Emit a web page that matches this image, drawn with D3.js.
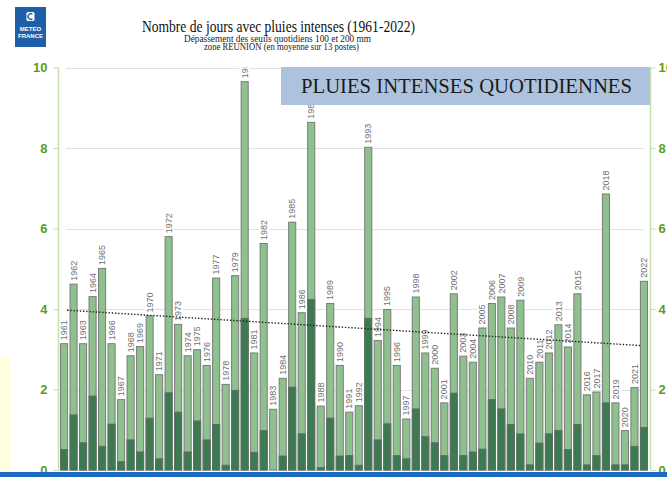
<!DOCTYPE html>
<html>
<head>
<meta charset="utf-8">
<script src="https://cdn.jsdelivr.net/npm/d3@7"></script>
<style>
  html, body { margin: 0; padding: 0; background: #fff; }
  svg { display: block; }
</style>
</head>
<body>
<svg id="chart" width="667" height="477"></svg>
<script>
// ---------------- DATA ----------------
const years = [1961,1962,1963,1964,1965,1966,1967,1968,1969,1970,
  1971,1972,1973,1974,1975,1976,1977,1978,1979,1980,
  1981,1982,1983,1984,1985,1986,1987,1988,1989,1990,
  1991,1992,1993,1994,1995,1996,1997,1998,1999,2000,
  2001,2002,2003,2004,2005,2006,2007,2008,2009,2010,
  2011,2012,2013,2014,2015,2016,2017,2018,2019,2020,
  2021,2022];
// days above 100 mm (total bar)
const days100 = [3.15,4.63,3.15,4.32,5.02,3.15,1.76,2.85,3.08,3.84,
  2.38,5.81,3.63,2.85,3.00,2.61,4.78,2.14,4.84,9.66,
  2.92,5.64,1.52,2.29,6.17,3.92,8.65,1.60,4.15,2.61,
  1.45,1.61,8.03,3.23,4.00,2.61,1.28,4.31,2.92,2.54,
  1.68,4.39,2.84,2.69,3.54,4.15,4.31,3.54,4.23,2.29,
  2.69,2.92,3.62,3.07,4.39,1.88,1.95,6.87,1.68,0.99,
  2.06,4.70];
// days above 200 mm (dark bar)
const days200 = [0.52,1.38,0.69,1.85,0.60,1.15,0.22,0.76,0.46,1.30,
  0.29,1.93,1.45,0.46,1.23,0.76,1.14,0.13,1.99,3.78,
  0.45,0.99,0.00,0.36,2.07,0.91,4.25,0.07,1.30,0.36,
  0.37,0.13,3.78,0.76,1.16,0.37,0.29,1.53,0.84,0.69,
  0.37,1.92,0.37,0.46,0.53,1.76,1.53,1.14,0.91,0.14,
  0.68,0.91,0.99,0.52,1.14,0.14,0.37,1.68,0.14,0.14,
  0.60,1.07];
const trendYears = [1961, 2022];
const trendValues = [3.97, 3.09];
const yTicks = [0, 2, 4, 6, 8, 10];

const titleText = "Nombre de jours avec pluies intenses (1961-2022)";
const subtitle1 = "Dépassement des seuils quotidiens 100 et 200 mm";
const subtitle2 = "zone REUNION (en moyenne sur 13 postes)";
const boxText = "PLUIES INTENSES QUOTIDIENNES";

// ---------------- LAYOUT ----------------
const svg = d3.select("#chart");
const axisGreen = "#5a9e1e";
const axisLine = "#c6e0ad";
const serif = "Liberation Serif, Times New Roman, serif";
const sans = "Liberation Sans, Arial, sans-serif";

const x = d3.scaleBand().domain(years).range([59.3, 648.7])
  .paddingInner(0.15).paddingOuter(0.075);
const y = d3.scaleLinear().domain([0, 10]).range([470, 67.5]);

// yellow side box
svg.append("rect").attr("x", 0).attr("y", 357).attr("width", 10.5).attr("height", 115)
  .attr("fill", "#ffffe0");

// gridlines
svg.append("g").selectAll("line").data(yTicks).join("line")
  .attr("x1", 66).attr("x2", 643)
  .attr("y1", d => Math.round(y(d)) + 0.5).attr("y2", d => Math.round(y(d)) + 0.5)
  .attr("stroke", "#e2e2e2").attr("stroke-width", 1);

const rows = years.map((yr, i) => ({ year: yr, total: days100[i], dark: days200[i] }));

// light bars (>=100 mm)
svg.append("g").selectAll("rect").data(rows).join("rect")
  .attr("x", d => x(d.year) + 0.5)
  .attr("width", x.bandwidth() - 1)
  .attr("y", d => y(d.total) + 0.5)
  .attr("height", d => y(0) - y(d.total) - 0.5)
  .attr("fill", "#8fc18f").attr("stroke", "#7a7a7a").attr("stroke-width", 1);

// dark bars (>=200 mm)
svg.append("g").selectAll("rect").data(rows.filter(d => d.dark > 0.03)).join("rect")
  .attr("x", d => x(d.year) + 0.5)
  .attr("width", x.bandwidth() - 1)
  .attr("y", d => y(d.dark) + 0.5)
  .attr("height", d => Math.max(0, y(0) - y(d.dark) - 0.5))
  .attr("fill", "#3b7a52").attr("stroke", "#5f6f62").attr("stroke-width", 1);

// clip for year labels
svg.append("clipPath").attr("id", "plotclip")
  .append("rect").attr("x", 50).attr("y", 67.5).attr("width", 610).attr("height", 410);

const labels = svg.append("g").attr("clip-path", "url(#plotclip)")
  .selectAll("g").data(rows).join("g")
  .attr("transform", d => `translate(${x(d.year) + x.bandwidth() / 2},${y(d.total) - 3}) rotate(-90)`);
labels.append("rect").attr("x", -1).attr("y", -5).attr("width", 22).attr("height", 10)
  .attr("fill", "#fff");
labels.append("text").attr("x", 0).attr("y", 0).attr("dy", "0.35em")
  .attr("font-family", sans).attr("font-size", 9)
  .attr("fill", "#707070").text(d => d.year);

// trend line
svg.append("line")
  .attr("x1", x(trendYears[0]) + x.bandwidth() / 2 + 3).attr("y1", y(trendValues[0]))
  .attr("x2", x(trendYears[1]) + x.bandwidth() / 2 - 2).attr("y2", y(trendValues[1]))
  .attr("stroke", "#222").attr("stroke-width", 1.4).attr("stroke-dasharray", "1.4,1.8");

// title box
svg.append("rect").attr("x", 281).attr("y", 67).attr("width", 369.5).attr("height", 38)
  .attr("fill", "#adc3dd");
svg.append("text").attr("x", 301).attr("y", 93)
  .attr("textLength", 331).attr("lengthAdjust", "spacingAndGlyphs")
  .attr("font-family", serif).attr("font-size", 21)
  .attr("fill", "#1a1a1a").text(boxText);

// axes
const leftAxis = d3.axisLeft(y).tickValues(yTicks).tickSize(5).tickPadding(6).tickFormat(d3.format("d"));
const gL = svg.append("g").attr("transform", "translate(58.5,0)").call(leftAxis);
const rightAxis = d3.axisRight(y).tickValues(yTicks).tickSize(5).tickPadding(3).tickFormat(d3.format("d"));
const gR = svg.append("g").attr("transform", "translate(650.5,0)").call(rightAxis);
[gL, gR].forEach(g => {
  g.select(".domain").attr("stroke", axisLine).attr("stroke-width", 1.5)
    .attr("d", "M0,67.5V470");
  g.selectAll(".tick line").attr("stroke", axisLine).attr("stroke-width", 1);
  g.selectAll(".tick text").attr("fill", axisGreen)
    .attr("font-family", sans)
    .attr("font-weight", "bold").attr("font-size", 13);
});

// titles
svg.append("text").attr("x", 142).attr("y", 31.5)
  .attr("textLength", 273).attr("lengthAdjust", "spacingAndGlyphs")
  .attr("font-family", serif).attr("font-size", 16)
  .attr("fill", "#111").text(titleText);
svg.append("text").attr("x", 184).attr("y", 41.5)
  .attr("textLength", 187).attr("lengthAdjust", "spacingAndGlyphs")
  .attr("font-family", serif).attr("font-size", 9.5)
  .attr("fill", "#222").text(subtitle1);
svg.append("text").attr("x", 204).attr("y", 50)
  .attr("textLength", 155).attr("lengthAdjust", "spacingAndGlyphs")
  .attr("font-family", serif).attr("font-size", 9.5)
  .attr("fill", "#222").text(subtitle2);

// logo
const logo = svg.append("g").attr("transform", "translate(15,7)");
logo.append("rect").attr("width", 31).attr("height", 40).attr("fill", "#1f5fa8");
logo.append("rect").attr("x", 11.5).attr("y", 5).attr("width", 8).attr("height", 9).attr("rx", 1.5)
  .attr("fill", "#fff");
logo.append("path").attr("d", "M17.5,7.2 a2.8,2.8 0 1,0 0,4.6").attr("fill", "none")
  .attr("stroke", "#1f5fa8").attr("stroke-width", 1.4);
logo.append("text").attr("x", 15.5).attr("y", 24).attr("text-anchor", "middle")
  .attr("font-family", sans).attr("font-weight", "bold")
  .attr("font-size", 6).attr("fill", "#fff").text("METEO");
logo.append("text").attr("x", 15.5).attr("y", 30.5).attr("text-anchor", "middle")
  .attr("font-family", sans).attr("font-weight", "bold")
  .attr("font-size", 6).attr("fill", "#fff").text("FRANCE");

// bottom blue strip
svg.append("rect").attr("x", 0).attr("y", 472).attr("width", 667).attr("height", 5)
  .attr("fill", "#1b6cc0");
</script>
</body>
</html>
